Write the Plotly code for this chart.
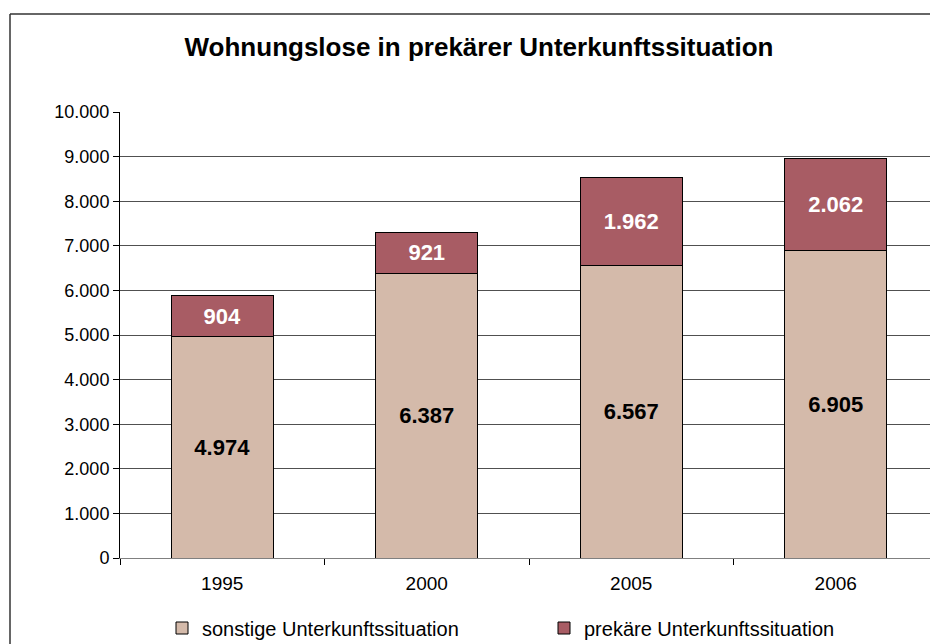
import plotly.graph_objects as go

years = ["1995", "2000", "2005", "2006"]
sonstige = [4974, 6387, 6567, 6905]
prekaer = [904, 921, 1962, 2062]
series_names = ["sonstige Unterkunftssituation", "prekäre Unterkunftssituation"]
title_text = "Wohnungslose in prekärer Unterkunftssituation"

FONT = "Liberation Sans, Arial, sans-serif"

# the page body has an 8px default margin; figure is sized to fit the window
W, H = 930, 636
ML, MT, MB = 112, 104, 86
PW = W - ML
PH = H - MT - MB

fig = go.Figure()
fig.add_trace(go.Bar(
    x=years, y=sonstige, name=series_names[0], legend="legend",
    marker=dict(color="#D4BAAA", line=dict(color="#000000", width=1)),
    texttemplate="%{y:,.0f}", textposition="inside", insidetextanchor="middle",
    textfont=dict(family=FONT, size=22, color="#000000", weight="bold"),
    width=0.5,
))
fig.add_trace(go.Bar(
    x=years, y=prekaer, name=series_names[1], legend="legend2",
    marker=dict(color="#A85C64", line=dict(color="#000000", width=1)),
    texttemplate="%{y:,.0f}", textposition="inside", insidetextanchor="middle",
    textfont=dict(family=FONT, size=22, color="#FFFFFF", weight="bold"),
    width=0.5,
))

# outer chart frame (left and top edges visible)
lx = (2 - ML) / PW
ty = (MT + PH - 6) / PH
fig.add_shape(type="line", xref="paper", yref="paper", x0=lx, x1=lx, y0=-0.3, y1=ty,
              line=dict(color="#333333", width=1.5))
fig.add_shape(type="line", xref="paper", yref="paper", x0=lx, x1=1.2, y0=ty, y1=ty,
              line=dict(color="#333333", width=1.5))

leg_common = dict(orientation="h", yref="container", y=1 - 620 / H, yanchor="middle",
                  xref="container", xanchor="left",
                  font=dict(family=FONT, size=20, color="#000000"), bgcolor="rgba(0,0,0,0)")

fig.update_layout(
    width=W, height=H,
    margin=dict(l=ML, r=0, t=MT, b=MB),
    paper_bgcolor="white", plot_bgcolor="white",
    barmode="stack",
    separators=",.",
    font=dict(family=FONT, size=18, color="#000000"),
    title=dict(text=title_text, x=471 / W, xanchor="center", y=1 - 39 / H, yanchor="middle",
               font=dict(family=FONT, size=26, color="#000000", weight="bold")),
    showlegend=True,
    legend=dict(x=154 / W, **leg_common),
    legend2=dict(x=536 / W, **leg_common),
    xaxis=dict(type="category", showgrid=False, showline=True, linecolor="#808080", linewidth=1,
               ticks="outside", tickson="boundaries", ticklen=6, tickcolor="#000000",
               ticklabelstandoff=8,
               tickfont=dict(family=FONT, size=19)),
    yaxis=dict(range=[0, 10000], dtick=1000, tickformat=",.0f", showgrid=True,
               gridcolor="#505050", gridwidth=1, showline=True, linecolor="#000000", linewidth=1,
               ticks="outside", ticklen=6, tickcolor="#000000", zeroline=False,
               tickfont=dict(family=FONT, size=18)),
)

fig.write_html("out.html")
